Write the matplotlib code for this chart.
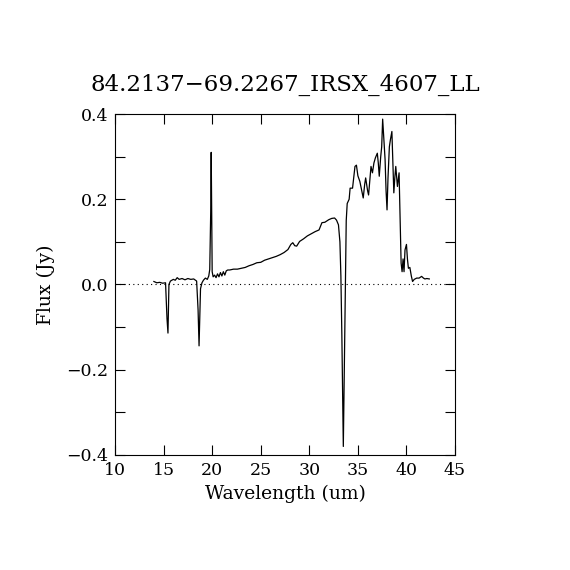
import matplotlib
matplotlib.use("Agg")
import matplotlib.pyplot as plt
from matplotlib.ticker import MultipleLocator, FuncFormatter

plt.rcParams.update(
    {
        "font.family": "DejaVu Serif",
        "mathtext.fontset": "dejavuserif",
    }
)

TITLE = "84.2137\u221269.2267_IRSX_4607_LL"

wavelength = [
    14.0, 14.3, 14.6, 14.9, 15.2, 15.35, 15.45, 15.55, 15.7, 16.0,
    16.2, 16.4, 16.6, 16.9, 17.2, 17.5, 17.8, 18.1, 18.4, 18.55,
    18.65, 18.8, 18.95, 19.1, 19.3, 19.5, 19.65, 19.75, 19.85, 19.9,
    19.95, 20.0, 20.1, 20.25, 20.4, 20.55, 20.7, 20.85, 21.0, 21.15,
    21.3, 21.45, 21.6, 21.8, 22.2, 22.6, 23.0, 23.4, 23.8, 24.2,
    24.6, 25.0, 25.4, 25.8, 26.2, 26.6, 27.0, 27.4, 27.8, 28.1,
    28.3, 28.5, 28.7, 29.0, 29.4, 29.8, 30.2, 30.6, 31.0, 31.3,
    31.6, 32.0, 32.3, 32.6, 32.8, 33.0, 33.15, 33.25, 33.35, 33.45,
    33.5, 33.6, 33.7, 33.8, 33.9, 34.1, 34.2, 34.45, 34.7, 34.85,
    35.0, 35.2, 35.4, 35.55, 35.7, 35.8, 36.0, 36.1, 36.35, 36.5,
    36.65, 36.8, 37.0, 37.1, 37.2, 37.35, 37.45, 37.55, 37.65, 37.8,
    37.9, 38.0, 38.1, 38.24, 38.35, 38.5, 38.6, 38.7, 38.8, 38.9,
    39.0, 39.07, 39.24, 39.35, 39.45, 39.55, 39.65, 39.75, 39.85, 40.0,
    40.1, 40.2, 40.35, 40.5, 40.63, 40.8, 41.05, 41.3, 41.56, 41.75,
    41.9, 42.1, 42.35,
]

flux = [
    0.007, 0.004, 0.005, 0.003, 0.004, -0.08, -0.114, 0.0, 0.008, 0.012,
    0.010, 0.016, 0.012, 0.014, 0.011, 0.014, 0.012, 0.013, 0.008, -0.06,
    -0.144, -0.01, 0.004, 0.010, 0.015, 0.012, 0.020, 0.035, 0.17, 0.31,
    0.17, 0.03, 0.018, 0.022, 0.016, 0.025, 0.018, 0.028, 0.020, 0.030,
    0.022, 0.032, 0.034, 0.034, 0.036, 0.036, 0.038, 0.040, 0.044, 0.047,
    0.051, 0.052, 0.057, 0.060, 0.063, 0.066, 0.070, 0.075, 0.082, 0.094,
    0.098, 0.091, 0.090, 0.101, 0.107, 0.114, 0.119, 0.124, 0.128, 0.145,
    0.146, 0.152, 0.155, 0.156, 0.151, 0.140, 0.100, 0.020, -0.12, -0.29,
    -0.38, -0.20, 0.0, 0.15, 0.19, 0.20, 0.226, 0.226, 0.277, 0.280,
    0.255, 0.242, 0.220, 0.203, 0.235, 0.250, 0.220, 0.210, 0.277, 0.262,
    0.285, 0.297, 0.308, 0.285, 0.254, 0.300, 0.323, 0.388, 0.350, 0.293,
    0.220, 0.175, 0.250, 0.323, 0.340, 0.359, 0.290, 0.215, 0.250, 0.277,
    0.250, 0.230, 0.262, 0.150, 0.050, 0.030, 0.060, 0.030, 0.081, 0.094,
    0.060, 0.038, 0.040, 0.020, 0.007, 0.012, 0.015, 0.015, 0.019, 0.015,
    0.013, 0.014, 0.013,
]

fig = plt.figure(figsize=(5.7, 5.7), dpi=100)
ax = fig.add_axes([0.2018, 0.2018, 0.5965, 0.5982])

ax.plot(wavelength, flux, color="black", linewidth=0.9)
ax.axhline(0.0, color="black", linestyle=(0, (1, 3)), linewidth=0.8)

ax.set_xlim(10, 45)
ax.set_ylim(-0.4, 0.4)
ax.xaxis.set_major_locator(MultipleLocator(5))
ax.yaxis.set_major_locator(MultipleLocator(0.2))
ax.yaxis.set_minor_locator(MultipleLocator(0.1))
ax.tick_params(which="both", direction="in", top=True, right=True,
               labelsize=12.5, width=0.8, length=7)
ax.tick_params(axis="x", pad=5)
ax.tick_params(axis="y", pad=5)
ax.yaxis.set_major_formatter(
    FuncFormatter(lambda v, p: f"{v:.1f}".replace("-", "\u2212"))
)
for s in ax.spines.values():
    s.set_linewidth(0.8)

ax.set_xlabel("Wavelength (um)", fontsize=13.5, labelpad=4)
ax.set_ylabel("Flux (Jy)", fontsize=13.5, labelpad=8)
ax.set_title(TITLE, fontsize=16.5, pad=17)

fig.savefig("out.png", dpi=100)
